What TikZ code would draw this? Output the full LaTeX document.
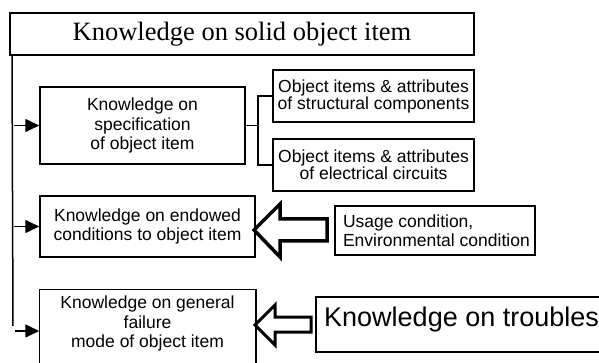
\documentclass[tikz,border=0pt]{standalone}
\usepackage{fontspec}
\setmainfont{Liberation Serif}
\newfontfamily\arialf{Liberation Sans}
\usetikzlibrary{arrows.meta,calc}
\begin{document}
\begin{tikzpicture}[x=1pt,y=-1pt,
  box/.style={draw,line width=1.5pt,inner sep=0pt,align=center,
    font={\arialf\fontsize{17.5}{19.5}\selectfont}},
  sbox/.style={draw,line width=1.5pt,inner sep=0pt,align=center,
    font={\arialf\fontsize{17.5}{17}\selectfont}},
  feed/.style={line width=1.6pt,-{Triangle[length=14pt,width=13pt]}},
  wire/.style={line width=1.5pt},
  hollow/.style={draw,fill=white,line join=miter,line width=3.5pt}]
\useasboundingbox (0,0) rectangle (599,363);
\clip (0,0) rectangle (599,363);
% title
\node[draw,line width=2pt,minimum width=464pt,minimum height=42pt,inner sep=0pt,
  font=\fontsize{26.5}{30}\selectfont] (title) at (242,34) {Knowledge on solid object item};
% boxes
\node[box,minimum width=205pt,minimum height=77pt] (b1) at (142.5,125.5)
  {Knowledge on\\specification\\of object item};
\node[sbox,minimum width=201pt,minimum height=52pt] (s1) at (373.5,96)
  {Object items \& attributes\\of structural components};
\node[sbox,minimum width=201pt,minimum height=52pt] (s2) at (373.5,165)
  {Object items \& attributes\\of electrical circuits};
\node[box,minimum width=215pt,minimum height=61pt] (b2) at (147.5,226.5)
  {Knowledge on endowed\\conditions to object item};
\node[box,draw=none,minimum width=215pt,minimum height=67pt] (b3) at (147.5,323.5)
  {Knowledge on general\\failure\\mode of object item};
\draw[line width=1.5pt] (b3.west |- 0,380) -- (b3.north west) -- (b3.north east) -- (b3.east |- 0,380);
\node[box,align=left,minimum width=200pt,minimum height=49pt,inner xsep=0pt] (u) at (435,230.5)
  {\hbox to 184pt{\vbox{\hbox{Usage condition,}\hbox{Environmental condition}}\hss}};
% troubles box (cut by the right edge)
\coordinate (trtl) at (316,297);
\coordinate (trbl) at (316,352);
\draw[line width=1.5pt] (610,297) -- (trtl) -- (trbl) -- (610,352);
\node[anchor=base west,inner sep=0pt,font={\arialf\fontsize{27}{30}\selectfont}] (tr) at (324,326)
  {Knowledge on troubles};
% left trunk and feeds
\coordinate (vtop) at ($(title.south west)+(3,0)$);
\coordinate (vbot) at (13,326);
\draw[wire] (vtop) -- (vbot);
\draw[feed] (b1.west -| 14,0) -- (b1.west);
\draw[feed] (b2.west -| 14,0) -- (b2.west);
\draw[feed] (15,331) -- (b3.west |- 0,331);
% bracket
\draw[wire] (b1.east) -- ++(12,0) |- (s1.west);
\draw[wire] (b1.east) -- ++(12,0) |- (s2.west);
% hollow arrows
\draw[hollow] (254,230) -- (280,204) -- (280,219) -- (327,219) -- (327,241) -- (280,241) -- (280,257) -- cycle;
\draw[hollow,line width=3pt] (255,325) -- (275,305) -- (275,317) -- (311,317) -- (311,332) -- (275,332) -- (275,345) -- cycle;
\end{tikzpicture}
\end{document}
